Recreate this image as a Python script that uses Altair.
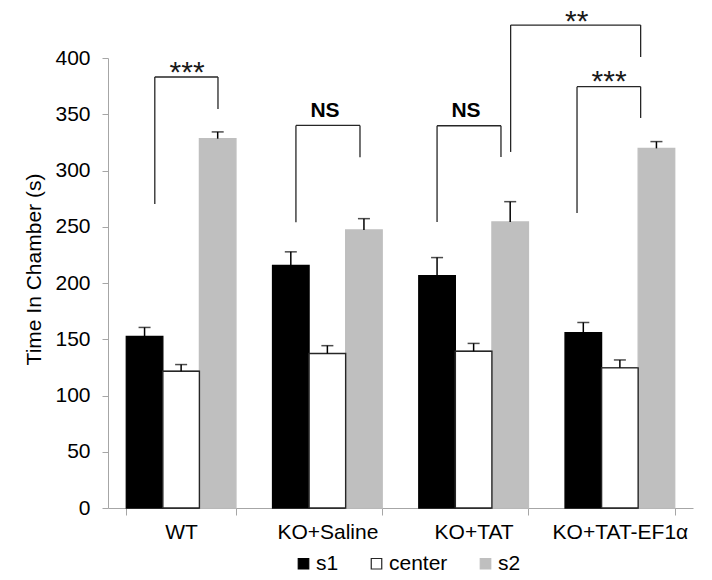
import altair as alt
import pandas as pd

# ---- data ----
groups = ["WT", "KO+Saline", "KO+TAT", "KO+TAT-EF1α"]
series = ["s1", "center", "s2"]
s1_vals = [152.5, 215.7, 206.6, 155.9]
center_vals = [121.5, 137.3, 139.3, 124.6]
s2_vals = [328.3, 247.2, 254.3, 319.7]
s1_err = [8, 12, 16, 9]
center_err = [6, 7, 7, 7]
s2_err = [6, 10, 18, 6]

# significance brackets (x in group units 0..4, y in seconds)
br_label = ["***", "NS", "NS", "***", "**"]
br_x1 = [0.32, 1.285, 2.25, 3.207, 2.753]
br_x2 = [0.752, 1.723, 2.687, 3.642, 3.642]
br_top = [383.1, 340.1, 339.8, 374.5, 429.3]
br_left_bottom = [270.3, 253.9, 254.3, 262.3, 316.5]
br_right_bottom = [354.7, 311.7, 312.0, 346.7, 400.9]
br_text_x = [0.541, 1.484, 2.448, 3.426, 3.205]
br_text_y = [378.3, 347.4, 347.4, 370.9, 424.3]
br_kind = ["star", "ns", "ns", "star", "star"]

FONT = "Liberation Sans"

rows = []
for gi, g in enumerate(groups):
    for s, vals, errs in [("s1", s1_vals, s1_err),
                          ("center", center_vals, center_err),
                          ("s2", s2_vals, s2_err)]:
        rows.append({"group": g, "series": s, "value": vals[gi],
                     "upper": vals[gi] + errs[gi]})
df = pd.DataFrame(rows)

br = pd.DataFrame({
    "label": br_label, "x1": br_x1, "x2": br_x2, "top": br_top,
    "lb": br_left_bottom, "rb": br_right_bottom,
    "tx": br_text_x, "ty": br_text_y, "kind": br_kind,
})

yscale = alt.Scale(domain=[0, 400], nice=False, zero=True)
xqscale = alt.Scale(domain=[0, 4], nice=False, zero=False)

xband = alt.X(
    "group:N", sort=groups, title=None,
    scale=alt.Scale(paddingInner=0.25, paddingOuter=0.125),
    axis=alt.Axis(labelAngle=0, labelFontSize=21, labelFont=FONT, labelColor="black",
                  tickBand="extent", tickSize=7, tickColor="#A6A6A6",
                  domainColor="#A6A6A6", labelPadding=6, grid=False),
)
xoff = alt.XOffset("series:N", sort=series,
                   scale=alt.Scale(domain=series, paddingInner=0, paddingOuter=0))

YTITLE = "Time In Chamber (s)"
yaxis = alt.Axis(values=list(range(0, 401, 50)), title=YTITLE,
                 titleFontSize=21, titleFont=FONT, titleFontWeight="normal",
                 titleColor="black", labelFontSize=21, labelFont=FONT,
                 labelColor="black", grid=False, domainColor="#A6A6A6",
                 tickColor="#A6A6A6", tickSize=6, labelPadding=12, titlePadding=10,
                 titleY=211)

legend = alt.Legend(orient="none", legendX=185, legendY=495, direction="horizontal",
                    title=None, symbolType="square", symbolSize=110,
                    labelFontSize=21, labelFont=FONT, labelColor="black",
                    labelOffset=2, columnPadding=27, padding=0,
                    symbolStrokeWidth=1.2)


def ydef(field):
    return alt.Y(field, scale=yscale, axis=yaxis, title=YTITLE)


fill_enc = alt.Fill("series:N", sort=series,
                    scale=alt.Scale(domain=series, range=["#000000", "#FFFFFF", "#BFBFBF"]),
                    legend=legend)
stroke_enc = alt.Stroke("series:N", sort=series,
                        scale=alt.Scale(domain=series, range=["#000000", "#262626", "#BFBFBF"]),
                        legend=legend)

base = alt.Chart(df)
bars = base.mark_bar(strokeWidth=1.3).encode(
    x=xband, xOffset=xoff, y=ydef("value:Q"),
    fill=fill_enc, stroke=stroke_enc,
)
# outlined 'center' bars redrawn on top so their outline stays visible
center_bars = base.transform_filter(alt.datum.series == "center").mark_bar(
    strokeWidth=1.4
).encode(
    x=xband, xOffset=xoff, y=ydef("value:Q"),
    fill=fill_enc, stroke=stroke_enc,
)
err = base.mark_rule(color="black", strokeWidth=1.5).encode(
    x=xband, xOffset=xoff,
    y=ydef("value:Q"), y2="upper:Q",
)
caps = base.mark_tick(color="black", thickness=1.5, size=12).encode(
    x=xband, xOffset=xoff,
    y=ydef("upper:Q"),
)
band_layer = alt.layer(bars, center_bars, err, caps)

bb = alt.Chart(br)
left_legs = bb.mark_rule(color="#262626", strokeWidth=1.3).encode(
    x=alt.X("x1:Q", scale=xqscale, axis=None),
    y=ydef("lb:Q"), y2="top:Q",
)
tops = bb.mark_rule(color="#262626", strokeWidth=1.3).encode(
    x=alt.X("x1:Q", scale=xqscale, axis=None), x2="x2:Q",
    y=ydef("top:Q"),
)
right_legs = bb.mark_rule(color="#262626", strokeWidth=1.3).encode(
    x=alt.X("x2:Q", scale=xqscale, axis=None),
    y=ydef("rb:Q"), y2="top:Q",
)
stars = bb.transform_filter(alt.datum.kind == "star").mark_text(
    font=FONT, fontSize=30, baseline="alphabetic", align="center", color="#1a1a1a"
).encode(
    x=alt.X("tx:Q", scale=xqscale, axis=None),
    y=ydef("ty:Q"),
    text="label:N",
)
ns = bb.transform_filter(alt.datum.kind == "ns").mark_text(
    font=FONT, fontSize=21, fontWeight="bold", baseline="alphabetic", align="center",
    color="black"
).encode(
    x=alt.X("tx:Q", scale=xqscale, axis=None),
    y=ydef("ty:Q"),
    text="label:N",
)
ann_layer = alt.layer(left_legs, tops, right_legs, stars, ns)

chart = alt.layer(band_layer, ann_layer).resolve_scale(x="independent").properties(
    width=585, height=450,
    autosize=alt.AutoSizeParams(type="none"),
    padding={"left": 108, "top": 58, "right": 19, "bottom": 72},
    background="white",
).configure_view(stroke=None)

chart.save("out.html", embed_options={"renderer": "svg", "actions": False})
